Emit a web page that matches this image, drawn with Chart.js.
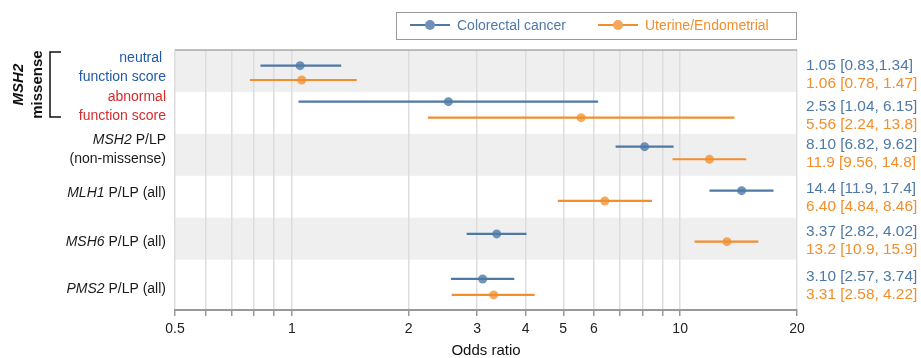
<!DOCTYPE html>
<html>
<head>
<meta charset="utf-8">
<title>MMR gene odds ratios</title>
<script src="https://cdn.jsdelivr.net/npm/chart.js@4.4.0/dist/chart.umd.min.js"></script>
<style>
  body { margin:0; background:#fff; font-family:"Liberation Sans", Arial, sans-serif; }
  #wrap { position:relative; width:921px; height:358px; }
  #legend { position:absolute; left:396px; top:12px; width:401px; height:28px; border:1.5px solid #9a9a9a; box-sizing:border-box; font-size:14px; }
  .item { position:absolute; top:0; height:24px; line-height:24px; }
  .mark { position:absolute; top:11px; width:40px; height:2px; }
  .dot { position:absolute; left:15px; top:-4px; width:10px; height:10px; border-radius:50%; }
</style>
</head>
<body>
<div id="wrap">
  <canvas id="forest" width="921" height="358"></canvas>
  <div id="legend">
    <span class="mark" style="left:12.5px;background:#4e79a7"><span class="dot" style="background:#6f91b9"></span></span>
    <span class="item" style="left:60px;color:#4e79a7">Colorectal cancer</span>
    <span class="mark" style="left:200.5px;background:#f28e2b"><span class="dot" style="background:#f4a65a"></span></span>
    <span class="item" style="left:248px;color:#f28e2b">Uterine/Endometrial</span>
  </div>
</div>
<script>
// rows, top to bottom
const rowLines = [
  ['neutral ', 'function score'],
  ['abnormal', 'function score'],
  ['MSH2 P/LP', '(non-missense)'],
  ['MLH1 P/LP (all)'],
  ['MSH6 P/LP (all)'],
  ['PMS2 P/LP (all)']
];
const genes = ['MSH2', 'MLH1', 'MSH6', 'PMS2'];

// colorectal cancer: OR [95% CI]
const crOR = [1.05, 2.53, 8.10, 14.4, 3.37, 3.10];
const crLo = [0.83, 1.04, 6.82, 11.9, 2.82, 2.57];
const crHi = [1.34, 6.15, 9.62, 17.4, 4.02, 3.74];
// uterine / endometrial: OR [95% CI]
const utOR = [1.06, 5.56, 11.9, 6.40, 13.2, 3.31];
const utLo = [0.78, 2.24, 9.56, 4.84, 10.9, 2.58];
const utHi = [1.47, 13.8, 14.8, 8.46, 15.9, 4.22];

// vertical placement of each estimate inside its row (row units, 0 = top)
const crRow = [0.374, 1.232, 2.305, 3.354, 4.386, 5.46];
const utRow = [0.715, 1.614, 2.605, 3.60, 4.57, 5.84];

const gridValues = [0.5, 0.6, 0.7, 0.8, 0.9, 1, 2, 3, 4, 5, 6, 7, 8, 9, 10, 20];
const tickLabels = [0.5, 1, 2, 3, 4, 5, 6, 10, 20];

const FONT = '"Liberation Sans", Arial, sans-serif';
const labelMid = [0.415, 1.345, 2.38, 3.41, 4.57, 5.70];
const annoMid = [0.59, 1.57, 2.48, 3.53, 4.55, 5.63];
const labelColors = ['#1f5aa6', '#d62b2b', '#1a1a1a', '#1a1a1a', '#1a1a1a', '#1a1a1a'];

const series = [
  { color: '#4e79a7', dot: 'rgba(78,121,167,0.8)', or: crOR, lo: crLo, hi: crHi, pos: crRow },
  { color: '#f28e2b', dot: 'rgba(242,142,43,0.75)', or: utOR, lo: utLo, hi: utHi, pos: utRow }
];

function fmt(v) {
  return v < 1 ? v.toFixed(2) : v.toPrecision(3);
}

const datasets = [];
series.forEach(s => {
  datasets.push({
    data: s.or.map((v, i) => ({ x: v, y: s.pos[i] })),
    pointRadius: 4.5, pointHoverRadius: 4.5,
    backgroundColor: s.dot, borderWidth: 0, order: 0
  });
  s.or.forEach((v, i) => {
    datasets.push({
      data: [{ x: s.lo[i], y: s.pos[i] }, { x: s.hi[i], y: s.pos[i] }],
      showLine: true, pointRadius: 0, borderColor: s.color, borderWidth: 2.2, order: 1
    });
  });
});

const decor = {
  id: 'decor',
  beforeDraw(chart) {
    const { ctx, chartArea: a, scales: { y } } = chart;
    ctx.save();
    ctx.fillStyle = '#efefef';
    for (let i = 0; i < rowLines.length; i += 2) {
      const t = y.getPixelForValue(i), b = y.getPixelForValue(i + 1);
      ctx.fillRect(a.left, t, a.right - a.left, b - t);
    }
    ctx.restore();
  },
  afterDraw(chart) {
    const { ctx, chartArea: a, scales: { y } } = chart;
    ctx.save();

    // top frame line
    ctx.strokeStyle = '#a8a8a8';
    ctx.lineWidth = 1.5;
    ctx.beginPath();
    ctx.moveTo(a.left, a.top);
    ctx.lineTo(a.right, a.top);
    ctx.stroke();

    // row labels on the left, gene names in italics
    ctx.textBaseline = 'middle';
    const right = 166;
    rowLines.forEach((lines, r) => {
      const mid = y.getPixelForValue(labelMid[r]);
      lines.forEach((line, k) => {
        const ly = mid + (k - (lines.length - 1) / 2) * 19;
        ctx.fillStyle = labelColors[r];
        const first = line.split(' ')[0];
        if (genes.includes(first)) {
          const rest = line.slice(first.length);
          ctx.font = 'italic 14px ' + FONT;
          const w1 = ctx.measureText(first).width;
          ctx.font = '14px ' + FONT;
          const w2 = ctx.measureText(rest).width;
          ctx.textAlign = 'left';
          ctx.font = 'italic 14px ' + FONT;
          ctx.fillText(first, right - w1 - w2, ly);
          ctx.font = '14px ' + FONT;
          ctx.fillText(rest, right - w2, ly);
        } else {
          ctx.font = '14px ' + FONT;
          ctx.textAlign = 'right';
          ctx.fillText(line, right, ly);
        }
      });
    });

    // bracket for the missense rows
    const bTop = y.getPixelForValue(0.05), bBot = y.getPixelForValue(1.6);
    ctx.strokeStyle = '#111';
    ctx.lineWidth = 1.5;
    ctx.beginPath();
    ctx.moveTo(61, bTop); ctx.lineTo(50, bTop); ctx.lineTo(50, bBot); ctx.lineTo(61, bBot);
    ctx.stroke();
    const bMid = (bTop + bBot) / 2;
    ctx.fillStyle = '#111';
    ctx.textAlign = 'center';
    ctx.translate(0, bMid);
    ctx.rotate(-Math.PI / 2);
    ctx.font = 'italic bold 15px ' + FONT;
    ctx.fillText('MSH2', 0, 19);
    ctx.font = 'bold 15px ' + FONT;
    ctx.fillText('missense', 0, 38);
    ctx.setTransform(1, 0, 0, 1, 0, 0);

    // OR [CI] text on the right
    ctx.textAlign = 'left';
    ctx.font = '15.4px ' + FONT;
    annoMid.forEach((m, r) => {
      const mid = y.getPixelForValue(m);
      series.forEach((s, k) => {
        const sep = (k === 0 && r === 0) ? ',' : ', ';
        ctx.fillStyle = s.color;
        ctx.fillText(fmt(s.or[r]) + ' [' + fmt(s.lo[r]) + sep + fmt(s.hi[r]) + ']', 806, mid + (k - 0.5) * 18);
      });
    });
    ctx.restore();
  }
};

new Chart(document.getElementById('forest'), {
  type: 'scatter',
  data: { datasets: datasets },
  options: {
    responsive: false,
    animation: false,
    layout: { padding: { left: 175, right: 124, top: 50, bottom: 0 } },
    plugins: { legend: { display: false }, tooltip: { enabled: false } },
    scales: {
      x: {
        type: 'logarithmic',
        min: 0.5, max: 20,
        afterBuildTicks: s => { s.ticks = gridValues.map(v => ({ value: v })); },
        afterFit: s => { s.height = 48; },
        grid: { color: '#dddddd', lineWidth: 1.5, tickLength: 6, tickColor: '#999' },
        border: { color: '#999', width: 2 },
        ticks: {
          autoSkip: false, maxRotation: 0, padding: 5, color: '#222',
          font: { family: FONT, size: 14 },
          callback: v => tickLabels.includes(v) ? String(v) : ''
        },
        title: { display: true, text: 'Odds ratio', color: '#111', font: { family: FONT, size: 15 }, padding: { top: -2, bottom: -2 } }
      },
      y: { type: 'linear', reverse: true, min: 0, max: 6.2, display: false }
    }
  },
  plugins: [decor]
});
</script>
</body>
</html>
